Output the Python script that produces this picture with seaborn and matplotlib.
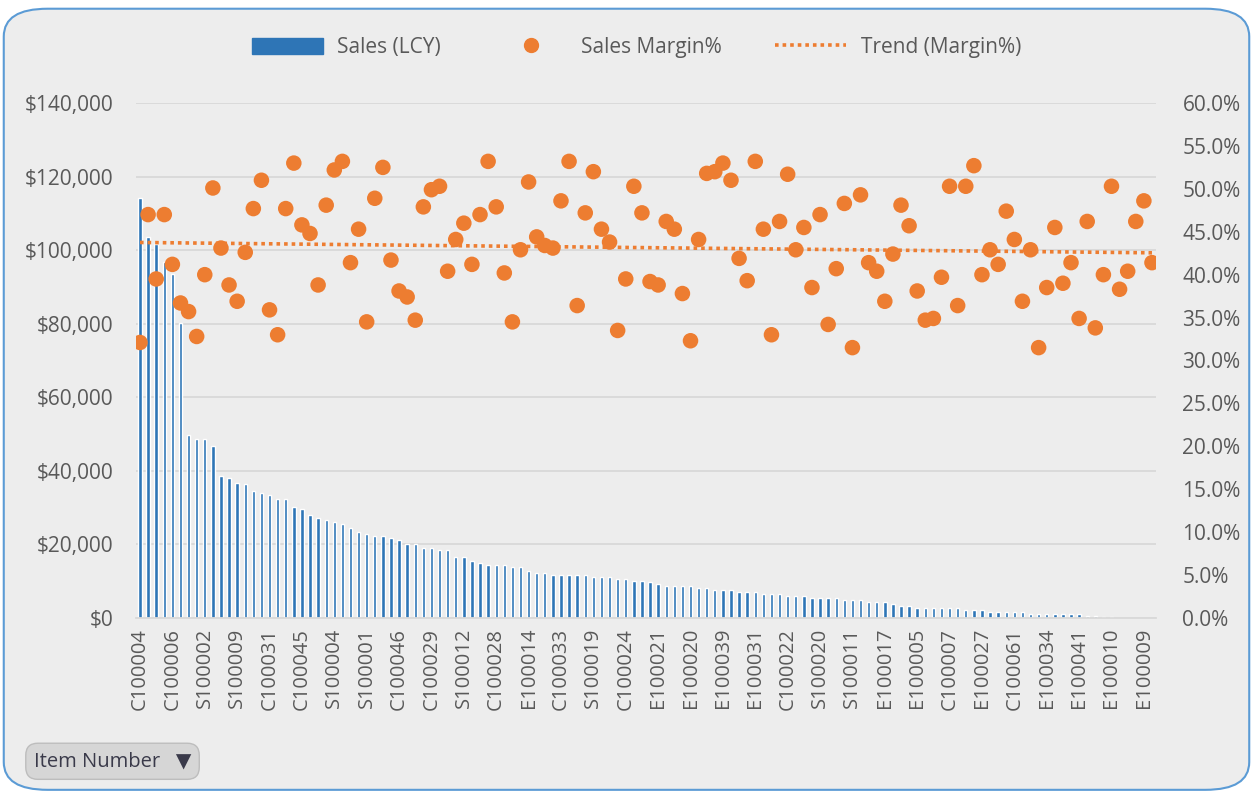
import numpy as np
import pandas as pd
import matplotlib
matplotlib.use("Agg")
import matplotlib.pyplot as plt
from matplotlib.patches import FancyBboxPatch
from matplotlib.lines import Line2D
from matplotlib.patches import Patch
from matplotlib.ticker import FuncFormatter, MultipleLocator
import seaborn as sns

# Sales (LCY) in thousands, sorted descending
sales_k = [114.2, 103.6, 101.7, 96.9, 93.5, 80.1, 49.7, 48.7, 48.7, 46.8,
           38.6, 38.0, 36.8, 36.3, 34.6, 34.1, 33.5, 32.3, 32.3, 30.2,
           29.5, 27.9, 27.3, 26.7, 26.2, 25.6, 24.5, 23.4, 22.8, 22.3,
           22.3, 21.7, 21.1, 20.1, 20.0, 19.0, 19.0, 18.4, 18.4, 16.7,
           16.7, 15.6, 15.0, 14.5, 14.5, 14.3, 13.9, 13.9, 12.8, 12.1,
           12.1, 11.6, 11.6, 11.6, 11.6, 11.6, 11.1, 11.1, 11.1, 10.5,
           10.5, 10.0, 10.0, 9.9, 9.3, 8.8, 8.8, 8.8, 8.8, 8.2,
           8.2, 7.7, 7.7, 7.7, 7.2, 7.2, 7.2, 6.6, 6.6, 6.6,
           6.1, 6.1, 6.1, 5.5, 5.5, 5.5, 5.5, 5.0, 5.0, 5.0,
           4.3, 4.3, 4.3, 3.8, 3.3, 3.3, 2.7, 2.7, 2.7, 2.7,
           2.7, 2.7, 2.2, 2.2, 2.2, 1.6, 1.6, 1.6, 1.6, 1.6,
           1.1, 1.1, 1.1, 1.1, 1.1, 1.0, 1.0, 0.5, 0.5, 0.2,
           0.15, 0.1, 0.08, 0.05, 0.03, 0.01]

# Sales margin in percent
margin_pct = [32.1, 47.0, 39.5, 47.0, 41.2, 36.7, 35.7, 32.8, 40.0, 50.1,
              43.1, 38.8, 36.9, 42.6, 47.7, 51.0, 35.9, 33.0, 47.7, 53.0,
              45.8, 44.8, 38.8, 48.1, 52.2, 53.2, 41.4, 45.3, 34.5, 48.9,
              52.5, 41.7, 38.1, 37.4, 34.7, 47.9, 49.9, 50.3, 40.4, 44.1,
              46.0, 41.2, 47.0, 53.2, 47.9, 40.2, 34.5, 42.9, 50.8, 44.4,
              43.4, 43.1, 48.6, 53.2, 36.4, 47.2, 52.0, 45.3, 43.8, 33.5,
              39.5, 50.3, 47.2, 39.2, 38.8, 46.2, 45.3, 37.8, 32.3, 44.1,
              51.8, 52.0, 53.0, 51.0, 41.9, 39.3, 53.2, 45.3, 33.0, 46.2,
              51.7, 42.9, 45.5, 38.5, 47.0, 34.2, 40.7, 48.3, 31.5, 49.3,
              41.4, 40.4, 36.9, 42.4, 48.1, 45.7, 38.1, 34.7, 34.9, 39.7,
              50.3, 36.4, 50.3, 52.7, 40.0, 42.9, 41.2, 47.4, 44.1, 36.9,
              42.9, 31.5, 38.5, 45.5, 39.0, 41.4, 34.9, 46.2, 33.8, 40.0,
              50.3, 38.3, 40.4, 46.2, 48.6, 41.4]

# Every 4th item number shown on the axis
tick_labels = ["C100004", "C100006", "S100002", "S100009", "C100031", "C100045",
               "S100004", "S100001", "C100046", "C100029", "S100012", "C100028",
               "E100014", "C100033", "S100019", "C100024", "E100021", "E100020",
               "E100039", "E100031", "C100022", "S100020", "S100011", "E100017",
               "E100005", "C100007", "E100027", "C100061", "E100034", "E100041",
               "E100010", "E100009"]

df = pd.DataFrame({"pos": np.arange(len(sales_k)),
                   "sales": np.array(sales_k) * 1000,
                   "margin": np.array(margin_pct) / 100})

# linear trend of margin like Excel's trendline
coef = np.polyfit(df["pos"], df["margin"], 1)
df["trend"] = np.polyval(coef, df["pos"])

BLUE = "#2e75b6"
ORANGE = "#ed7d31"
GRAY = "#595959"
BG = "#ededed"

sns.set_style("white")
plt.rcParams["font.family"] = ["Open Sans", "DejaVu Sans"]

fig = plt.figure(figsize=(12.53, 7.93), dpi=100)
fig.patch.set_facecolor("white")
frame = FancyBboxPatch((0.003, 0.004), 0.994, 0.985,
                       boxstyle="round,pad=0,rounding_size=0.035",
                       transform=fig.transFigure, facecolor=BG,
                       edgecolor="#5b9bd5", linewidth=1.5, zorder=-10)
fig.patches.append(frame)

ax = fig.add_axes([0.1085, 0.2207, 0.8141, 0.6494])
ax.set_facecolor("none")
sns.barplot(data=df, x="pos", y="sales", color=BLUE, saturation=1,
            width=0.42, ax=ax)
ax.set_ylim(0, 140000)
ax.yaxis.set_major_locator(MultipleLocator(20000))
ax.yaxis.set_major_formatter(FuncFormatter(lambda v, p: f"${v:,.0f}"))
ax.grid(axis="y", color="#d9d9d9", linewidth=1.3)
ax.set_axisbelow(True)
ax.set_xlim(-0.5, len(sales_k) - 0.5)
ax.set_xticks(df["pos"][::4])
ax.set_xticklabels(tick_labels, rotation=90)
ax.set_xlabel("")
ax.set_ylabel("")
ax.tick_params(axis="y", length=0, colors=GRAY, labelsize=15, pad=16)
ax.tick_params(axis="x", length=0, colors=GRAY, labelsize=14.5, pad=7)
for s in ax.spines.values():
    s.set_visible(False)
ax.spines["bottom"].set_visible(True)
ax.spines["bottom"].set_color("#d9d9d9")
ax.spines["bottom"].set_linewidth(1.3)

ax2 = ax.twinx()
ax2.set_facecolor("none")
sns.scatterplot(data=df, x="pos", y="margin", color=ORANGE, s=125,
                edgecolor="none", ax=ax2, zorder=3)
sns.lineplot(data=df, x="pos", y="trend", color=ORANGE, linewidth=2.6,
             linestyle=(0, (1, 1.1)), ax=ax2, zorder=2)
ax2.set_ylim(0, 0.6)
ax2.yaxis.set_major_locator(MultipleLocator(0.05))
ax2.yaxis.set_major_formatter(FuncFormatter(lambda v, p: f"{v*100:.1f}%"))
ax2.set_ylabel("")
ax2.tick_params(axis="y", length=0, colors=GRAY, labelsize=15, pad=19)
for s in ax2.spines.values():
    s.set_visible(False)
ax2.set_xlim(-0.5, len(sales_k) - 0.5)

handles = [Patch(facecolor=BLUE, edgecolor=BLUE),
           Line2D([], [], marker="o", linestyle="none", color=ORANGE, markersize=10),
           Line2D([], [], color=ORANGE, linewidth=2.6, linestyle=(0, (1, 1.1)))]
fig.legend(handles, ["Sales (LCY)", "Sales Margin%", "Trend (Margin%)"],
           loc="center", bbox_to_anchor=(0.508, 0.94), ncol=3, frameon=False,
           fontsize=15, labelcolor=GRAY, handlelength=3.4, handleheight=0.8,
           columnspacing=2.6, handletextpad=0.7)

fig.text(0.027, 0.04, "Item Number   \u25bc", fontsize=14.5, color="#3a3a4a",
         va="center", ha="left",
         bbox=dict(boxstyle="round,pad=0.4,rounding_size=0.6",
                   facecolor="#d6d6d6", edgecolor="#bdbdbd"))

fig.savefig("out.png", dpi=100, facecolor=fig.get_facecolor())
